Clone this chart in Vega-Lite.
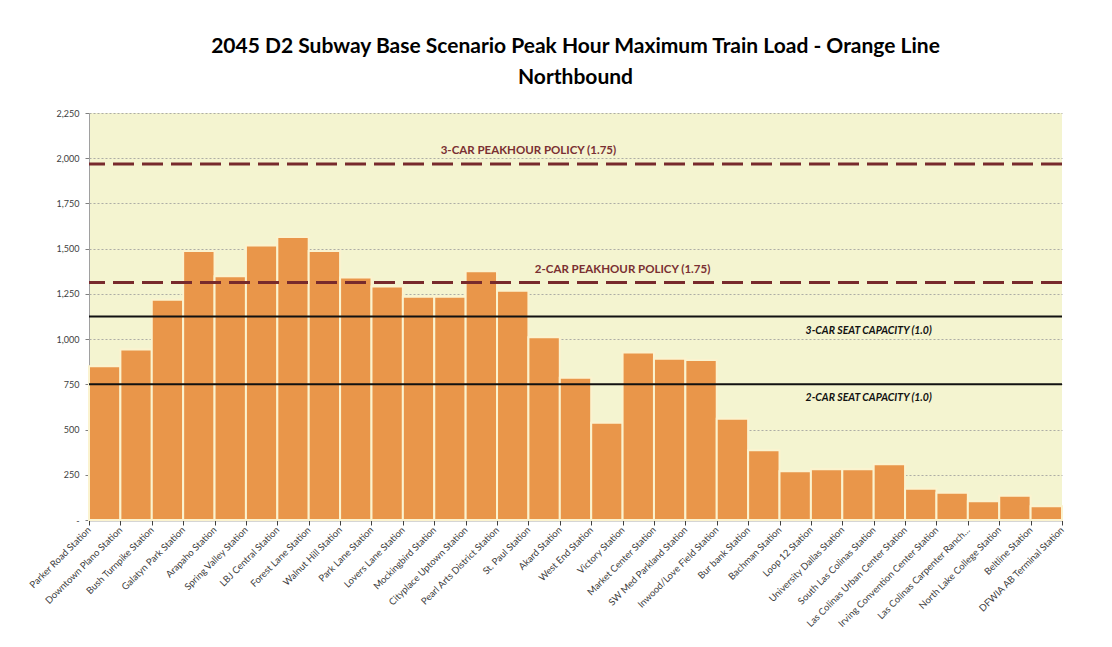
{
  "$schema": "https://vega.github.io/schema/vega-lite/v6.json",
  "autosize": {"type": "none"},
  "width": 973,
  "height": 407,
  "padding": {"left": 89, "top": 113, "right": 50, "bottom": 127},
  "background": "white",
  "title": {
    "text": ["2045 D2 Subway Base Scenario Peak Hour Maximum Train Load - Orange Line", "Northbound"],
    "font": "Lato",
    "fontSize": 21,
    "fontWeight": "bold",
    "color": "#000000",
    "lineHeight": 31,
    "offset": 21,
    "anchor": "middle"
  },
  "config": {
    "view": {"fill": "#F4F4D0", "stroke": null},
    "axis": {"labelFont": "Lato", "titleFont": "Lato"}
  },
  "datasets": {
    "segments": [
      {"from": "Parker Road Station", "to": "Downtown Plano Station", "load": 850},
      {"from": "Downtown Plano Station", "to": "Bush Turnpike Station", "load": 943},
      {"from": "Bush Turnpike Station", "to": "Galatyn Park Station", "load": 1218},
      {"from": "Galatyn Park Station", "to": "Arapaho Station", "load": 1487},
      {"from": "Arapaho Station", "to": "Spring Valley Station", "load": 1348},
      {"from": "Spring Valley Station", "to": "LBJ Central Station", "load": 1517},
      {"from": "LBJ Central Station", "to": "Forest Lane Station", "load": 1565},
      {"from": "Forest Lane Station", "to": "Walnut Hill Station", "load": 1487},
      {"from": "Walnut Hill Station", "to": "Park Lane Station", "load": 1340},
      {"from": "Park Lane Station", "to": "Lovers Lane Station", "load": 1291},
      {"from": "Lovers Lane Station", "to": "Mockingbird Station", "load": 1234},
      {"from": "Mockingbird Station", "to": "Cityplace Uptown Station", "load": 1234},
      {"from": "Cityplace Uptown Station", "to": "Pearl Arts District Station", "load": 1375},
      {"from": "Pearl Arts District Station", "to": "St. Paul Station", "load": 1268},
      {"from": "St. Paul Station", "to": "Akard Station", "load": 1010},
      {"from": "Akard Station", "to": "West End Station", "load": 786},
      {"from": "West End Station", "to": "Victory Station", "load": 538},
      {"from": "Victory Station", "to": "Market Center Station", "load": 926},
      {"from": "Market Center Station", "to": "SW Med Parkland Station", "load": 891},
      {"from": "SW Med Parkland Station", "to": "Inwood/Love Field Station", "load": 884},
      {"from": "Inwood/Love Field Station", "to": "Bur bank Station", "load": 560},
      {"from": "Bur bank Station", "to": "Bachman Station", "load": 385},
      {"from": "Bachman Station", "to": "Loop 12 Station", "load": 269},
      {"from": "Loop 12 Station", "to": "University Dallas Station", "load": 280},
      {"from": "University Dallas Station", "to": "South Las Colinas Station", "load": 280},
      {"from": "South Las Colinas Station", "to": "Las Colinas Urban Center Station", "load": 308},
      {"from": "Las Colinas Urban Center Station", "to": "Irving Convention Center Station", "load": 173},
      {"from": "Irving Convention Center Station", "to": "Las Colinas Carpenter Ranch…", "load": 151},
      {"from": "Las Colinas Carpenter Ranch…", "to": "North Lake College Station", "load": 103},
      {"from": "North Lake College Station", "to": "Beltline Station", "load": 134},
      {"from": "Beltline Station", "to": "DFWIA AB Terminal Station", "load": 76}
    ],
    "policy": [
      {"name": "3-CAR PEAKHOUR POLICY (1.75)", "value": 1968.75, "kind": "peak"},
      {"name": "2-CAR PEAKHOUR POLICY (1.75)", "value": 1312.5, "kind": "peak"},
      {"name": "3-CAR SEAT CAPACITY (1.0)", "value": 1125, "kind": "seat"},
      {"name": "2-CAR SEAT CAPACITY (1.0)", "value": 750, "kind": "seat"}
    ],
    "notes": [
      {"name": "3-CAR PEAKHOUR POLICY (1.75)", "from": "St. Paul Station", "value": 1968.75, "kind": "peak"},
      {"name": "2-CAR PEAKHOUR POLICY (1.75)", "from": "Victory Station", "value": 1312.5, "kind": "peak"},
      {"name": "3-CAR SEAT CAPACITY (1.0)", "from": "South Las Colinas Station", "value": 1125, "kind": "seat"},
      {"name": "2-CAR SEAT CAPACITY (1.0)", "from": "South Las Colinas Station", "value": 750, "kind": "seat"}
    ]
  },
  "encoding": {
    "x": {
      "field": "from",
      "type": "ordinal",
      "title": null,
      "scale": {
        "type": "point",
        "padding": 0,
        "domain": ["Parker Road Station", "Downtown Plano Station", "Bush Turnpike Station", "Galatyn Park Station", "Arapaho Station", "Spring Valley Station", "LBJ Central Station", "Forest Lane Station", "Walnut Hill Station", "Park Lane Station", "Lovers Lane Station", "Mockingbird Station", "Cityplace Uptown Station", "Pearl Arts District Station", "St. Paul Station", "Akard Station", "West End Station", "Victory Station", "Market Center Station", "SW Med Parkland Station", "Inwood/Love Field Station", "Bur bank Station", "Bachman Station", "Loop 12 Station", "University Dallas Station", "South Las Colinas Station", "Las Colinas Urban Center Station", "Irving Convention Center Station", "Las Colinas Carpenter Ranch…", "North Lake College Station", "Beltline Station", "DFWIA AB Terminal Station"]
      },
      "axis": {
        "labelAngle": -45,
        "labelAlign": "right",
        "labelBaseline": "middle",
        "labelFontSize": 9.5,
        "labelColor": "#404040",
        "labelPadding": 3,
        "labelOverlap": false,
        "labelLimit": 200,
        "tickSize": 5,
        "tickColor": "#404040",
        "domainColor": "#595959",
        "domainWidth": 1.5,
        "grid": false
      }
    },
    "y": {
      "type": "quantitative",
      "title": null,
      "scale": {"domain": [0, 2250], "nice": false},
      "axis": {
        "values": [0, 250, 500, 750, 1000, 1250, 1500, 1750, 2000, 2250],
        "labelExpr": "datum.value === 0 ? '-' : format(datum.value, ',')",
        "labelFontSize": 9,
        "labelColor": "#404040",
        "labelPadding": 6,
        "tickSize": 4,
        "tickColor": "#808080",
        "domainColor": "#A0A0A0",
        "grid": true,
        "gridColor": "#9A9A9A",
        "gridDash": [2, 2],
        "gridWidth": 0.8
      }
    }
  },
  "layer": [
    {
      "data": {"name": "segments"},
      "mark": {"type": "bar", "color": "#E9964A", "stroke": "#FBF3CF", "strokeWidth": 2},
      "encoding": {
        "x2": {"field": "to"},
        "y": {"field": "load", "type": "quantitative"},
        "y2": {"datum": 0}
      }
    },
    {
      "data": {"name": "policy"},
      "transform": [{"filter": "datum.kind === 'peak'"}],
      "mark": {"type": "rule", "color": "#772A2C", "strokeWidth": 3, "strokeDash": [21, 8]},
      "encoding": {
        "x": null,
        "y": {"field": "value", "type": "quantitative"}
      }
    },
    {
      "data": {"name": "policy"},
      "transform": [{"filter": "datum.kind === 'seat'"}],
      "mark": {"type": "rule", "color": "#111111", "strokeWidth": 2},
      "encoding": {
        "x": null,
        "y": {"field": "value", "type": "quantitative"}
      }
    },
    {
      "data": {"name": "notes"},
      "transform": [{"filter": "datum.kind === 'peak'"}],
      "mark": {"type": "text", "font": "Lato", "fontSize": 11.5, "fontWeight": "bold", "color": "#7A3032", "dy": -13, "align": "center", "baseline": "middle"},
      "encoding": {
        "y": {"field": "value", "type": "quantitative"},
        "text": {"field": "name"}
      }
    },
    {
      "data": {"name": "notes"},
      "transform": [{"filter": "datum.kind === 'seat'"}],
      "mark": {"type": "text", "font": "Lato", "fontSize": 10.5, "fontWeight": "bold", "fontStyle": "italic", "color": "#111111", "dy": 14, "dx": -5, "align": "center", "baseline": "middle"},
      "encoding": {
        "y": {"field": "value", "type": "quantitative"},
        "text": {"field": "name"}
      }
    }
  ]
}
